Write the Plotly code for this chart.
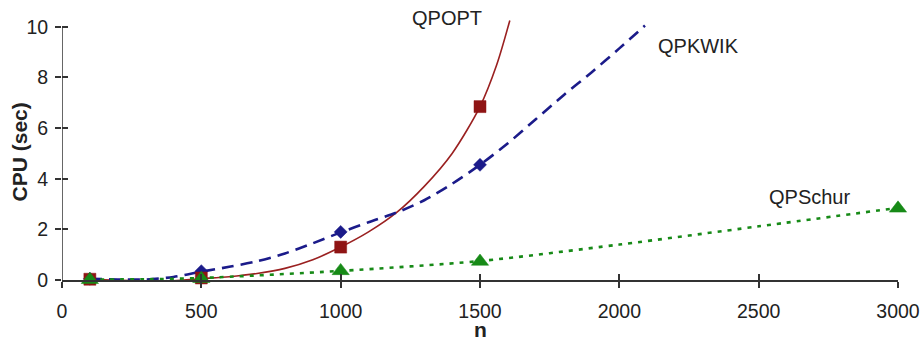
import plotly.graph_objects as go

# ---- data ----
n_pts = [100, 500, 1000, 1500]
qpopt = [0.03, 0.08, 1.3, 6.85]
qpkwik = [0.05, 0.35, 1.9, 4.55]
n_schur = [100, 500, 1000, 1500, 3000]
qpschur = [0.01, 0.05, 0.36, 0.73, 2.83]

# trend lines as drawn in the reference
n_qpopt_tr = [100, 200, 300, 400, 500, 600, 700, 800, 900, 1000, 1100, 1200, 1300, 1400, 1500, 1560, 1607]
qpopt_tr = [0.03, -0.01, -0.04, -0.03, 0.05, 0.13, 0.26, 0.46, 0.8, 1.3, 1.9, 2.66, 3.7, 5.0, 6.85, 8.5, 10.25]
n_qpkwik_tr = [100, 200, 300, 400, 500, 600, 700, 800, 900, 1000, 1100, 1200, 1300, 1400, 1500, 1600, 1700, 1800, 1900, 2000, 2092]
qpkwik_tr = [0.05, 0.02, 0.02, 0.12, 0.33, 0.52, 0.74, 1.05, 1.45, 1.88, 2.28, 2.66, 3.15, 3.8, 4.55, 5.4, 6.35, 7.3, 8.2, 9.15, 10.05]
n_schur_tr = [100, 300, 500, 1000, 1500, 2000, 2500, 3000]
qpschur_tr = [0.02, 0.03, 0.08, 0.36, 0.75, 1.4, 2.12, 2.85]

x_ticks = [0, 500, 1000, 1500, 2000, 2500, 3000]
y_ticks = [0, 2, 4, 6, 8, 10]
labels = ["QPOPT", "QPKWIK", "QPSchur"]

RED, BLUE, GREEN = "#8f1414", "#1b1b8a", "#178a17"
AX = "#333333"
FONT = "Liberation Sans, Arial, sans-serif"

# ---- layout geometry (pixels) ----
W, H = 923, 338
y0_px, y10_px = 280, 27
ppu = (y0_px - y10_px) / 10.0
Y_TOP = 10.35
MT = y10_px - (Y_TOP - 10) * ppu
ML, MR = 62, 25
MB = H - y0_px
ph = y0_px - MT
pw = W - ML - MR

fig = go.Figure()

def tr(x, y, color, dash, width):
    fig.add_trace(go.Scatter(x=x, y=y, mode="lines",
                             line=dict(color=color, dash=dash, width=width, shape="spline", smoothing=0.8),
                             hoverinfo="skip", showlegend=False))

tr(n_qpopt_tr, qpopt_tr, "#9a2020", "solid", 1.6)
tr(n_qpkwik_tr, qpkwik_tr, BLUE, "12px,7px", 2.6)
tr(n_schur_tr, qpschur_tr, GREEN, "4px,6px", 2.6)

def mk(x, y, color, symbol, size):
    fig.add_trace(go.Scatter(x=x, y=y, mode="markers", cliponaxis=False,
                             marker=dict(color=color, symbol=symbol, size=size,
                                         line=dict(color=color, width=0.5)),
                             showlegend=False))

mk(n_pts, qpkwik, BLUE, "diamond", 10)
mk(n_pts, qpopt, RED, "square", 12)
mk(n_schur, qpschur, GREEN, "triangle-up", 15)

# dummy traces so the inner-tick overlay axes exist
fig.add_trace(go.Scatter(x=[None], y=[None], xaxis="x2", yaxis="y", showlegend=False, hoverinfo="skip"))
fig.add_trace(go.Scatter(x=[None], y=[None], xaxis="x", yaxis="y3", showlegend=False, hoverinfo="skip"))

tick_font = dict(family=FONT, size=19.5, color="#222222")
common = dict(showgrid=False, zeroline=False, automargin=False)

fig.update_layout(
    width=W, height=H,
    margin=dict(l=ML, r=MR, t=MT, b=MB, autoexpand=False),
    paper_bgcolor="white", plot_bgcolor="white",
    showlegend=False,
    font=dict(family=FONT, color="#222222"),
    xaxis=dict(range=[0, 3000], tickvals=x_ticks, ticks="outside", ticklen=6, tickwidth=1.5,
               tickcolor=AX, showline=True, linecolor=AX, linewidth=1.5, anchor="y",
               tickfont=tick_font, ticklabelstandoff=7, **common),
    xaxis2=dict(range=[0, 3000], tickvals=x_ticks, ticks="inside", ticklen=6, tickwidth=1.5,
                tickcolor=AX, showline=False, showticklabels=False, overlaying="x", anchor="y", **common),
    yaxis=dict(range=[0, Y_TOP], tickvals=y_ticks, ticks="outside", ticklen=6, tickwidth=1.5,
               tickcolor=AX, showline=False, anchor="x",
               tickfont=tick_font, ticklabelstandoff=3, **common),
    yaxis3=dict(range=[0, Y_TOP], tickvals=y_ticks, ticks="inside", ticklen=6, tickwidth=1.5,
                tickcolor=AX, showline=False, showticklabels=False, overlaying="y", anchor="x", **common),
)

# y axis line from 0 to 10 only
fig.add_shape(type="line", x0=0, x1=0, y0=0, y1=10, xref="x", yref="y",
              line=dict(color=AX, width=1.5), layer="above")

def px_x(p):
    return (p - ML) / pw
def px_y(p):
    return (y0_px - p) / ph

ann_font = dict(family=FONT, size=20, color="#222222")
for txt, (ax, ay) in zip(labels, [(447, 18), (698, 46), (809, 197)]):
    fig.add_annotation(text=txt, x=px_x(ax), y=px_y(ay), xref="paper", yref="paper",
                       showarrow=False, xanchor="center", yanchor="middle", font=ann_font)

fig.add_annotation(text="<b>CPU (sec)</b>", textangle=-90, x=px_x(19), y=px_y(152.5),
                   xref="paper", yref="paper", showarrow=False, xanchor="center", yanchor="middle",
                   font=dict(family=FONT, size=21, color="#222222"))
fig.add_annotation(text="<b>n</b>", x=px_x(480), y=px_y(329), xref="paper", yref="paper",
                   showarrow=False, xanchor="center", yanchor="middle",
                   font=dict(family=FONT, size=21, color="#222222"))

fig.write_html("out.html")
